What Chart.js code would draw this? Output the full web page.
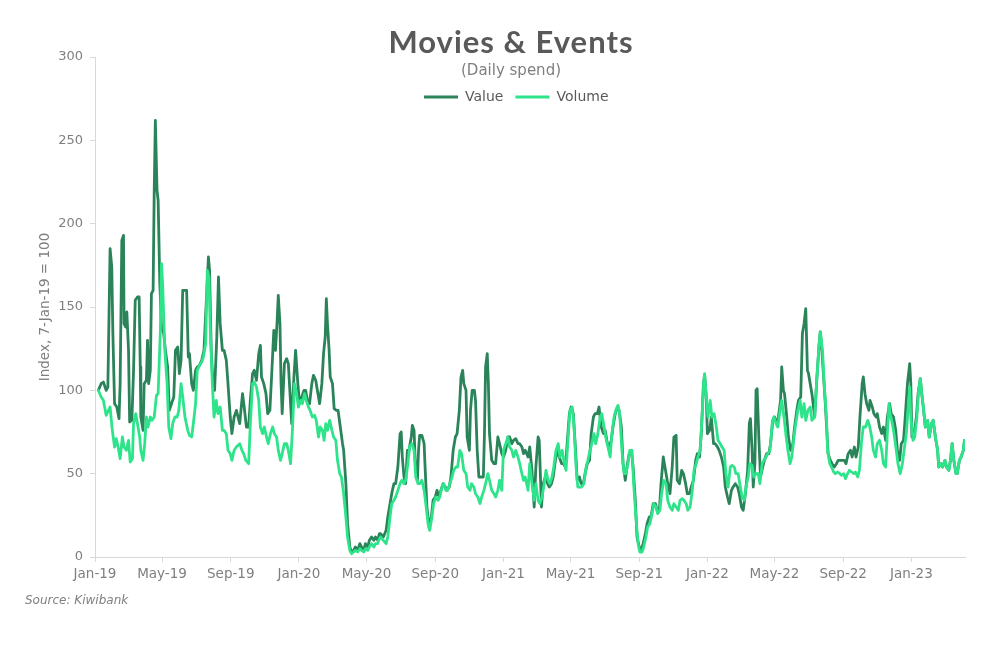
<!DOCTYPE html>
<html>
<head>
<meta charset="utf-8">
<script src="https://cdn.jsdelivr.net/npm/chart.js@4.4.0/dist/chart.umd.min.js"></script>
<style>
html,body{margin:0;padding:0;background:#ffffff;}
#wrap{position:relative;width:1000px;height:664px;overflow:hidden;background:#ffffff;}
#c{position:absolute;left:0;top:0;}
.t{position:absolute;white-space:nowrap;}
#title{left:311px;width:400px;top:20px;height:42px;line-height:42px;text-align:center;font-family:Lato,'DejaVu Sans',sans-serif;font-weight:bold;font-size:31px;letter-spacing:1px;color:#595959;}
#sub{left:311px;width:400px;top:60px;height:20px;line-height:20px;text-align:center;font-family:'DejaVu Sans',sans-serif;font-size:15px;color:#7f7f7f;}
#src{left:25px;top:591px;height:18px;line-height:18px;font-family:'DejaVu Sans',sans-serif;font-style:italic;font-size:12px;color:#7f7f7f;}
</style>
</head>
<body>
<div id="wrap">
  <canvas id="c" width="1000" height="664"></canvas>
  <div class="t" id="title">Movies &amp; Events</div>
  <div class="t" id="sub">(Daily spend)</div>
  <div class="t" id="src">Source: Kiwibank</div>
</div>
<script>
// x values: days since 1 Jan 2019
const tickDays   = [0, 120, 243, 365, 486, 609, 731, 851, 974, 1096, 1216, 1339, 1461];
const tickLabels = ['Jan-19','May-19','Sep-19','Jan-20','May-20','Sep-20','Jan-21','May-21','Sep-21','Jan-22','May-22','Sep-22','Jan-23'];

const valueDays = [
6,11,15,20,23,27,30,32,35,39,
43,45,48,51,52,55,57,60,62,66,
69,72,76,79,81,82,86,88,92,94,
96,99,101,104,106,108,111,113,116,119,
123,126,130,133,137,141,144,148,151,154,
157,161,164,167,169,173,176,180,183,187,
191,195,199,203,205,208,211,214,218,221,
224,228,231,235,238,242,245,249,253,259,
264,267,271,275,278,282,285,289,293,296,
298,302,306,309,313,316,320,323,326,328,
331,333,335,339,343,346,350,352,356,359,
363,366,370,374,377,381,384,388,391,395,
399,402,406,409,412,414,416,419,421,425,
428,432,435,439,443,445,449,452,456,459,
463,466,470,474,477,481,484,488,491,495,
499,502,506,509,511,516,521,524,528,531,
535,538,542,546,548,550,553,556,559,562,
566,568,571,573,577,579,581,585,589,591,
594,598,602,605,609,612,616,619,623,627,
630,634,637,641,645,648,652,655,658,660,
664,666,670,672,675,679,681,684,687,691,
695,697,699,702,704,706,710,714,717,721,
724,728,731,735,739,742,746,749,753,757,
760,764,767,770,775,778,782,786,789,793,
795,799,802,806,810,813,817,820,824,827,
831,835,838,842,845,849,852,856,860,863,
867,870,874,877,881,885,888,892,895,899,
902,906,910,913,917,920,924,927,931,935,
938,942,945,949,952,956,960,963,967,970,
974,977,981,985,988,992,995,999,1003,1006,
1010,1013,1017,1020,1024,1029,1033,1036,1040,1042,
1046,1050,1053,1057,1060,1064,1067,1071,1075,1078,
1082,1085,1089,1091,1094,1096,1100,1103,1107,1110,
1114,1117,1121,1125,1128,1132,1135,1139,1142,1146,
1150,1153,1157,1160,1164,1168,1171,1173,1176,1178,
1181,1183,1185,1188,1191,1195,1198,1202,1206,1209,
1213,1216,1220,1223,1227,1229,1232,1234,1238,1241,
1245,1249,1252,1256,1259,1263,1266,1269,1272,1275,
1277,1280,1283,1288,1292,1296,1298,1300,1304,1307,
1310,1312,1316,1319,1323,1327,1330,1334,1337,1341,
1344,1348,1352,1355,1359,1362,1366,1369,1373,1375,
1378,1381,1385,1387,1391,1394,1398,1400,1404,1408,
1411,1415,1418,1422,1425,1429,1433,1436,1440,1443,
1447,1450,1454,1458,1460,1462,1466,1470,1473,1477,
1479,1483,1486,1490,1493,1497,1500,1504,1508,1510,
1514,1517,1521,1524,1528,1531,1534,1537,1541,1543,
1547,1550,1554,1556
];
const valueIdx = [
100,104,105,100,102,185,174,134,92,90,
83,104,190,193,140,138,147,124,81,82,
112,154,156,156,114,84,76,104,106,130,
104,112,158,160,220,262,220,214,164,138,
134,124,114,88,92,96,124,126,110,118,
160,160,160,120,122,104,100,112,114,115,
118,124,152,180,172,124,104,100,132,168,
140,124,124,118,104,84,74,84,88,80,
98,90,78,78,94,110,112,106,122,127,
108,104,98,86,88,108,136,124,142,157,
140,104,86,116,119,116,92,80,108,124,
104,92,96,100,100,92,92,104,109,106,
98,92,104,122,132,155,140,124,108,104,
89,88,88,78,68,64,44,20,6,3,
4,6,4,8,6,4,8,6,10,12,
10,12,10,14,14,12,16,24,32,38,
44,44,54,74,75,60,48,44,64,64,
72,79,76,58,46,64,73,73,68,52,
30,18,24,34,36,40,36,40,44,42,
40,42,48,64,72,74,88,108,112,104,
100,72,64,88,100,100,94,64,48,48,
48,74,114,122,104,74,58,56,56,72,
68,62,60,64,72,72,68,70,71,68,
68,66,62,64,60,66,52,30,54,72,
70,30,44,48,44,42,44,48,58,64,
60,56,56,54,68,86,90,86,64,46,
48,44,44,50,56,58,74,84,86,86,
90,78,74,76,68,66,70,78,86,90,
88,78,56,46,54,62,64,54,34,12,
6,4,8,14,20,24,24,32,32,28,
28,44,60,54,46,38,54,72,73,46,
44,52,50,44,38,38,42,46,58,62,
60,74,104,109,96,74,76,84,68,68,
66,64,60,54,42,36,32,40,42,44,
42,38,30,28,38,52,80,83,64,42,
56,100,101,72,48,54,58,62,62,68,
82,84,80,84,94,114,100,98,84,72,
64,68,78,88,94,96,134,140,149,112,
110,104,98,84,108,128,135,128,108,92,
74,62,58,56,54,56,58,58,58,58,
56,62,64,60,66,60,66,84,104,108,
98,92,88,94,90,86,84,86,78,74,
78,70,84,92,86,84,76,64,58,68,
70,84,104,116,104,72,74,84,98,107,
100,88,78,82,72,80,82,72,64,54,
56,54,58,54,52,58,68,58,50,50,
58,60,64,70
];

const volumeDays = [
6,11,15,20,24,27,31,35,38,42,
45,49,52,56,60,63,67,69,73,76,
80,82,86,89,92,95,99,102,106,110,
113,117,119,121,125,129,132,136,139,143,
147,150,154,157,161,166,169,173,176,180,
183,187,191,194,198,201,204,206,210,213,
217,220,224,228,231,235,238,242,245,249,
253,259,263,266,270,275,278,282,285,289,
293,296,300,303,307,310,314,318,321,325,
328,332,335,339,343,346,350,353,357,360,
364,368,371,375,378,382,385,389,393,396,
400,403,407,410,413,416,420,424,427,431,
434,438,441,445,449,452,456,459,463,466,
470,474,477,481,484,488,491,495,499,502,
506,509,511,516,521,524,528,531,535,538,
542,546,549,553,556,560,563,567,571,574,
578,581,585,589,592,596,599,603,606,610,
614,617,621,624,628,631,635,639,642,646,
649,653,656,660,664,667,671,674,678,681,
685,689,692,696,699,703,706,710,714,717,
721,724,728,731,735,739,742,746,749,753,
757,760,764,767,770,775,778,782,786,789,
793,796,800,804,807,811,814,818,821,825,
829,832,836,839,843,846,850,854,857,861,
864,868,871,875,879,882,886,889,893,896,
900,904,907,911,914,918,922,925,929,932,
936,939,943,947,950,954,957,961,964,968,
972,975,979,982,986,989,993,997,1000,1004,
1007,1011,1014,1018,1022,1025,1029,1033,1036,1040,
1044,1047,1051,1054,1058,1061,1065,1069,1072,1076,
1079,1083,1087,1089,1091,1094,1097,1101,1104,1108,
1112,1115,1119,1122,1126,1129,1133,1137,1140,1144,
1147,1151,1154,1158,1162,1165,1169,1172,1176,1179,
1183,1187,1190,1194,1197,1201,1204,1208,1212,1215,
1219,1222,1226,1229,1233,1237,1240,1244,1247,1251,
1254,1258,1262,1265,1269,1272,1276,1280,1283,1288,
1292,1296,1298,1302,1305,1309,1311,1315,1318,1322,
1325,1329,1333,1336,1340,1343,1347,1350,1354,1358,
1361,1365,1368,1372,1375,1379,1383,1386,1390,1393,
1397,1400,1404,1408,1411,1415,1418,1421,1423,1427,
1430,1434,1437,1441,1445,1448,1452,1455,1458,1460,
1464,1467,1471,1474,1477,1479,1483,1486,1490,1493,
1497,1500,1504,1508,1510,1514,1517,1521,1524,1528,
1531,1534,1537,1541,1543,1547,1550,1554,1556
];
const volumeIdx = [
100,96,94,85,88,90,76,66,71,65,
59,72,66,64,70,57,59,80,86,80,
72,64,58,68,84,78,84,82,84,97,
98,136,176,164,124,104,78,71,80,84,
84,88,104,96,84,76,73,72,80,92,
112,115,117,120,128,172,168,140,104,84,
94,86,90,76,76,74,64,62,58,64,
66,68,64,62,58,56,80,104,105,102,
94,78,74,78,72,68,74,78,74,72,
64,58,62,68,68,64,56,74,104,100,
90,94,92,98,94,90,88,84,85,82,
72,78,76,70,80,76,82,76,72,70,
58,50,48,38,24,12,4,2,3,4,
3,5,4,3,5,4,6,8,6,8,
8,11,12,10,8,12,24,32,34,36,
40,44,46,44,46,56,66,68,64,48,
44,44,46,40,32,20,16,24,32,36,
34,36,42,44,40,40,44,48,52,54,
54,64,62,52,50,42,40,44,42,38,
36,32,36,40,44,50,46,40,38,36,
40,46,40,64,68,72,66,64,60,64,
60,56,50,46,48,40,56,44,34,44,
34,32,36,44,52,46,44,48,54,64,
68,60,64,58,52,68,88,90,80,54,
42,42,42,44,54,58,64,68,74,68,
74,84,86,78,72,66,60,74,84,88,
91,86,64,50,50,56,64,64,44,24,
8,3,3,6,12,18,20,26,32,30,
26,28,38,46,44,34,30,28,32,30,
28,34,35,34,32,28,30,40,52,56,
60,64,88,104,110,96,84,94,84,86,
78,70,68,66,64,50,42,54,55,54,
50,50,44,36,34,42,48,56,55,48,
50,50,44,56,58,60,62,64,80,84,
80,78,88,94,84,72,64,56,60,72,
80,88,94,84,92,82,88,90,82,84,
108,128,135,124,104,84,64,56,54,51,
50,51,50,49,50,47,50,52,51,50,
51,48,52,70,78,78,82,79,72,64,
60,68,70,64,56,54,74,92,86,80,
74,64,56,50,56,64,74,88,102,84,
70,72,84,100,107,100,88,78,82,72,
80,82,72,64,54,56,54,58,54,52,
58,68,58,50,50,58,60,64,70
];

const DARK = '#2b8459';
const LIGHT = '#2de48b';
const AXIS = '#d9d9d9';
const TICK = '#7f7f7f';
const FONT = "'DejaVu Sans', sans-serif";

function toPoints(days, vals) {
  const n = Math.min(days.length, vals.length);
  if (days.length !== vals.length) console.error('length mismatch', days.length, vals.length);
  const out = [];
  for (let i = 0; i < n; i++) out.push({x: days[i], y: vals[i]});
  return out;
}

const legendPlace = {
  id: 'legendPlace',
  afterLayout(chart) {
    const lg = chart.legend;
    if (!lg) return;
    const pad = lg.options.labels.padding;
    const h = lg.bottom - lg.top;
    lg.top = 97 - pad - 7;
    lg.bottom = lg.top + h;
    const w = lg.right - lg.left;
    lg.left = 424 - pad;
    lg.right = lg.left + w;
  }
};

new Chart(document.getElementById('c').getContext('2d'), {
  type: 'line',
  data: {
    datasets: [
      {label: 'Value', data: toPoints(valueDays, valueIdx), borderColor: DARK, backgroundColor: DARK,
       borderWidth: 2.8, pointRadius: 0, tension: 0, order: 2, borderJoinStyle: 'round', borderCapStyle: 'round'},
      {label: 'Volume', data: toPoints(volumeDays, volumeIdx), borderColor: LIGHT, backgroundColor: LIGHT,
       borderWidth: 2.8, pointRadius: 0, tension: 0, order: 1, borderJoinStyle: 'round', borderCapStyle: 'round'}
    ]
  },
  options: {
    responsive: false,
    animation: false,
    devicePixelRatio: 1,
    layout: {padding: {top: 21, left: 0, right: 35, bottom: 0}},
    plugins: {
      tooltip: {enabled: false},
      title: {display: false},
      legend: {
        position: 'top',
        align: 'start',
        labels: {
          boxWidth: 34, boxHeight: 3, padding: 12, color: '#595959',
          font: {family: FONT, size: 14},
          sort: (a, b) => a.datasetIndex - b.datasetIndex,
          generateLabels(chart) {
            const items = Chart.defaults.plugins.legend.labels.generateLabels(chart);
            items.forEach(it => { it.lineWidth = 0; });
            return items;
          }
        }
      }
    },
    scales: {
      x: {
        type: 'linear', min: 0, max: 1557,
        afterBuildTicks(s) { s.ticks = tickDays.map(v => ({value: v})); },
        afterFit(s) { s.height = 107; },
        ticks: {autoSkip: false, maxRotation: 0, minRotation: 0, padding: 4, color: TICK,
                font: {family: FONT, size: 13.5}, callback: (v, i) => tickLabels[i]},
        grid: {drawOnChartArea: false, drawTicks: true, tickLength: 5, color: AXIS},
        border: {display: true, color: AXIS, width: 1}
      },
      y: {
        min: 0, max: 300,
        afterFit(s) { s.width = 95; },
        ticks: {stepSize: 50, padding: 7, color: TICK, font: {family: FONT, size: 13}},
        grid: {drawOnChartArea: false, drawTicks: true, tickLength: 5, color: AXIS},
        border: {display: true, color: AXIS, width: 1},
        title: {display: true, text: 'Index, 7-Jan-19 = 100', color: TICK,
                font: {family: FONT, size: 13.5}, padding: {top: 37, bottom: 0}}
      }
    }
  },
  plugins: [legendPlace]
});
</script>
</body>
</html>
